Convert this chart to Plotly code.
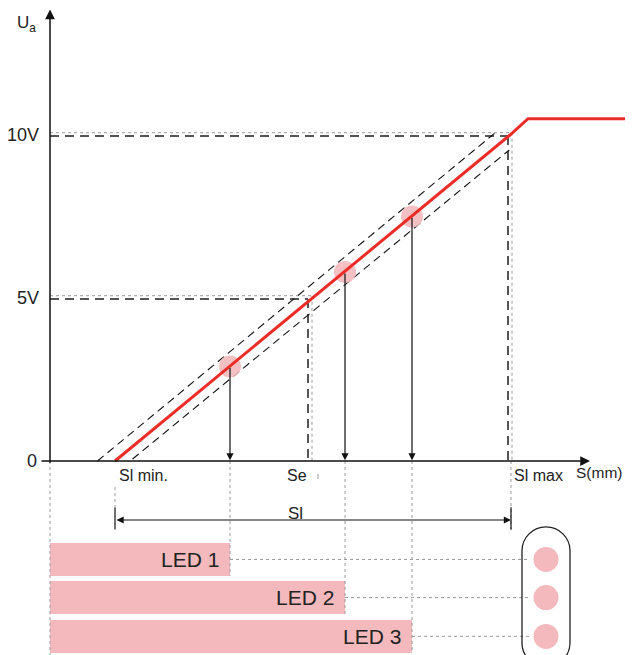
import plotly.graph_objects as go

# ---- data (S in mm-like units, U in volts) ----
u_ticks = [0, 5, 10]
u_tick_labels = ["0", "5V", "10V"]
s_points = [6.5, 26.0, 46.0]            # Sl min, Se, Sl max
s_point_labels = ["Sl min.", "Se", "Sl max"]
u_points = [0, 5, 10]
u_saturation = 10.5
s_saturation = [47.8, 57.5]
tolerance = 1.75                          # width of dashed band (mm)
led_names = ["LED 1", "LED 2", "LED 3"]
led_s = [18.0, 29.5, 36.2]
led_u = [2.9, 5.8, 7.5]
led_rows = [-3.02, -4.19, -5.38]          # rows of LED bars below the axis

RED = "#ec2d27"
PINK = "#f3b9bd"
DARK = "#555555"
DOT = "#9a9a9a"
TXT = "#222222"
FONT = "Liberation Sans, Arial, sans-serif"

fig = go.Figure()

def line(xs, ys, color, width, dash="solid"):
    fig.add_trace(go.Scatter(x=xs, y=ys, mode="lines",
                             line=dict(color=color, width=width, dash=dash),
                             hoverinfo="skip", showlegend=False))

sl_min, se, sl_max = s_points

# dotted continuation of y axis below zero
line([0, 0], [0, -6.0], DOT, 1, "dot")

# reference lines at 5V and 10V (dotted + dashed)
for s, u in [(se, 5), (sl_max, 10)]:
    line([0, s + 0.2], [u + 0.07, u + 0.07], DOT, 1, "dot")
    line([s + 0.2, s + 0.2], [u + 0.07, 0], DOT, 1, "dot")
    line([0, s - 0.2], [u - 0.03, u - 0.03], DARK, 2, "9px,6px")
    line([s - 0.2, s - 0.2], [u - 0.03, 0], DARK, 2, "9px,6px")

# small mark next to Se label
line([se + 0.8, se + 0.8], [-0.4, -0.55], DOT, 1)

# dotted continuations below the axis
line([sl_max + 0.1, sl_max + 0.1], [0, -2.2], DOT, 1, "dot")
line([sl_min, sl_min], [-0.8, -1.4], DOT, 1, "dot")
for s, r in zip(led_s, led_rows):
    line([s, s], [0, r - 0.5], DOT, 1, "dot")

# tolerance band (thin black dashed)
line([sl_min - tolerance, sl_max - tolerance + 0.05 * (sl_max - sl_min) / 10],
     [0, 10.05], "#111111", 1.1, "8px,5px")
line([sl_min + tolerance, sl_max + tolerance - 0.46 * (sl_max - sl_min) / 10],
     [0.06, 9.54], "#111111", 1.1, "8px,5px")

# LED bars
fig.add_trace(go.Bar(x=led_s, y=led_rows, base=0, orientation="h", width=1.01,
                     marker=dict(color=PINK, line=dict(width=0)),
                     hoverinfo="skip", showlegend=False))

# dotted lines from bars to indicator
for s, r in zip(led_s, led_rows):
    line([s, 48.0], [r, r], DOT, 1, "dot")

# pink markers on characteristic
fig.add_trace(go.Scatter(x=led_s, y=led_u, mode="markers",
                         marker=dict(color=PINK, size=22, opacity=0.9),
                         hoverinfo="skip", showlegend=False))

# characteristic line
line([sl_min, sl_max] + s_saturation, u_points[:1] + u_points[2:] + [u_saturation, u_saturation],
     RED, 3)

# indicator circles
fig.add_trace(go.Scatter(x=[49.6] * 3, y=led_rows, mode="markers",
                         marker=dict(color=PINK, size=25),
                         hoverinfo="skip", showlegend=False))

# stadium outline of indicator
cx, rx, ry, ct, cb, k = 49.6, 2.4, 0.736, -2.756, -5.58, 0.5523
xl, xr = cx - rx, cx + rx
path = (f"M {xl},{ct} C {xl},{ct + k*ry} {cx - k*rx},{ct + ry} {cx},{ct + ry} "
        f"C {cx + k*rx},{ct + ry} {xr},{ct + k*ry} {xr},{ct} L {xr},{cb} "
        f"C {xr},{cb - k*ry} {cx + k*rx},{cb - ry} {cx},{cb - ry} "
        f"C {cx - k*rx},{cb - ry} {xl},{cb - k*ry} {xl},{cb} Z")
fig.add_shape(type="path", path=path, xref="x", yref="y",
              line=dict(color="#222222", width=1.3))

# Sl dimension ticks
for s in [sl_min, sl_max + 0.1]:
    fig.add_shape(type="line", xref="x", yref="y", x0=s, x1=s, y0=-1.42, y1=-2.1,
                  line=dict(color="#111111", width=1.2))

ann = []
arrow_font = dict(size=10, family=FONT)
# axes with arrows
ann.append(dict(x=0, y=13.85, ax=0, ay=-0.1, xref="x", yref="y", axref="x", ayref="y",
                showarrow=True, arrowhead=2, arrowsize=1.3, arrowwidth=1.5,
                arrowcolor="#111111", text="", font=arrow_font))
ann.append(dict(x=54.0, y=0, ax=-1.0, ay=0, xref="x", yref="y", axref="x", ayref="y",
                showarrow=True, arrowhead=2, arrowsize=1.3, arrowwidth=1.5,
                arrowcolor="#111111", text="", font=arrow_font))
# LED arrows down to the S axis
for s, u in zip(led_s, led_u):
    ann.append(dict(x=s, y=0.02, ax=s, ay=u, xref="x", yref="y", axref="x", ayref="y",
                    showarrow=True, arrowhead=2, arrowsize=1.2, arrowwidth=1.2,
                    arrowcolor="#111111", text="", font=arrow_font))
# Sl dimension arrow
ann.append(dict(x=sl_max + 0.1, y=-1.81, ax=sl_min, ay=-1.81, xref="x", yref="y",
                axref="x", ayref="y", showarrow=True, arrowhead=2, startarrowhead=2,
                arrowside="end+start", arrowsize=1.2, arrowwidth=1.2,
                arrowcolor="#111111", text="", font=arrow_font))

# texts
ann.append(dict(x=-2.4, y=13.4, text="U<sub>a</sub>", showarrow=False, xref="x", yref="y",
                font=dict(size=17, color=TXT, family=FONT)))
for u, lab in zip(u_ticks, u_tick_labels):
    ann.append(dict(x=-0.9 if u else -1.1, y=u, text=lab, showarrow=False, xref="x", yref="y",
                    xanchor="right", font=dict(size=18, color=TXT, family=FONT)))
for s, lab in zip(s_points, s_point_labels):
    if lab == "Se":
        ann.append(dict(x=s - 0.1, y=-0.45, text=lab, showarrow=False, xref="x", yref="y",
                        xanchor="right", font=dict(size=16, color=TXT, family=FONT)))
    else:
        ann.append(dict(x=s + 0.2, y=-0.45, text=lab, showarrow=False, xref="x", yref="y",
                        xanchor="left", font=dict(size=16, color=TXT, family=FONT)))
ann.append(dict(x=57.45, y=-0.35, text="S(mm)", showarrow=False, xref="x", yref="y",
                xanchor="right", font=dict(size=15.5, color=TXT, family=FONT)))
ann.append(dict(x=24.5, y=-1.62, text="Sl", showarrow=False,
                xref="x", yref="y", font=dict(size=17, color=TXT, family=FONT)))
for s, r, name in zip(led_s, led_rows, led_names):
    ann.append(dict(x=s - 0.9, y=r, text=name, showarrow=False, xref="x", yref="y",
                    xanchor="right", font=dict(size=21, color=TXT, family=FONT)))

# page body has an 8px margin: the figure covers reference pixels 8..625 x 8..655
fig.update_layout(
    width=617, height=647,
    margin=dict(l=0, r=0, t=0, b=0),
    paper_bgcolor="white", plot_bgcolor="white",
    xaxis=dict(range=[-4.2, 57.5], visible=False, fixedrange=True),
    yaxis=dict(range=[-5.951, 13.896], visible=False, fixedrange=True),
    annotations=ann,
    showlegend=False,
    bargap=0,
)

fig.write_html("out.html")
